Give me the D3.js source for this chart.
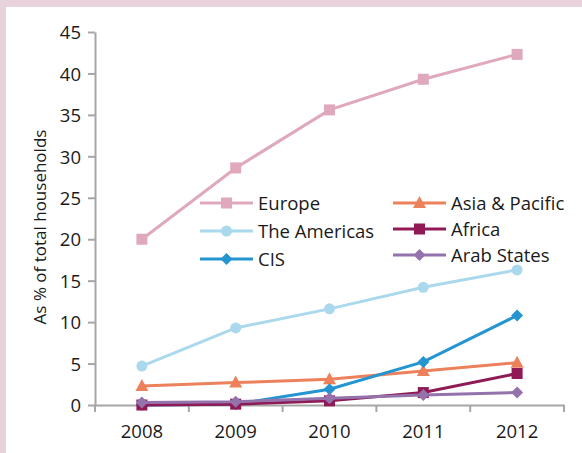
<!DOCTYPE html>
<html><head><meta charset="utf-8">
<script src="https://cdn.jsdelivr.net/npm/d3@7"></script>
<style>body{margin:0;background:#fff;}svg{display:block;}text{font-family:"Open Sans",sans-serif;fill:#1a1a1a;}</style>
</head><body>
<svg id="c" width="582" height="453"></svg>
<script>
const years = ["2008","2009","2010","2011","2012"];
const yTicks = [0,5,10,15,20,25,30,35,40,45];
const europe = [20.0, 28.6, 35.6, 39.3, 42.3];
const americas = [4.7, 9.3, 11.6, 14.2, 16.3];
const cis = [0.0, 0.1, 1.9, 5.2, 10.8];
const asiaPacific = [2.3, 2.7, 3.1, 4.1, 5.1];
const africa = [0.0, 0.1, 0.5, 1.5, 3.8];
const arabStates = [0.3, 0.4, 0.8, 1.2, 1.5];

const series = [
  {name:"Europe", values:europe, color:"#dfa8bd", shape:"square", col:0, row:0},
  {name:"The Americas", values:americas, color:"#aad8ec", shape:"circle", col:0, row:1},
  {name:"CIS", values:cis, color:"#2495d0", shape:"diamond", col:0, row:2},
  {name:"Asia & Pacific", values:asiaPacific, color:"#ec815c", shape:"triangle", col:1, row:0},
  {name:"Africa", values:africa, color:"#8f1a56", shape:"square", col:1, row:1},
  {name:"Arab States", values:arabStates, color:"#9472ab", shape:"diamond", col:1, row:2}
];

const svg = d3.select("#c");
svg.append("rect").attr("x",0).attr("y",0).attr("width",582).attr("height",7).attr("fill","#e8d3dc");
svg.append("rect").attr("x",0).attr("y",0).attr("width",6).attr("height",453).attr("fill","#e8d3dc");

const x = d3.scaleBand().domain(years).range([95,564]);
const y = d3.scaleLinear().domain([0,45]).range([405,32]);

const axisColor = "#a6a6a6";
const yAxis = svg.append("g").attr("transform","translate(95,0)")
  .call(d3.axisLeft(y).tickValues(yTicks).tickSize(7).tickPadding(7).tickSizeOuter(0));
const xAxis = svg.append("g").attr("transform","translate(0,405)")
  .call(d3.axisBottom(x).tickSize(0).tickPadding(20));
xAxis.selectAll(".bt").data(years.concat(["end"])).enter().append("line")
  .attr("x1",(d,i)=> i<years.length ? x(d) : x.range()[1])
  .attr("x2",(d,i)=> i<years.length ? x(d) : x.range()[1])
  .attr("y1",0).attr("y2",7).attr("stroke",axisColor).attr("stroke-width",2);
[yAxis,xAxis].forEach(g=>{
  g.select(".domain").attr("stroke",axisColor).attr("stroke-width",2);
  g.selectAll(".tick line").attr("stroke",axisColor).attr("stroke-width",2);
  g.selectAll("text").style("font-size","18.5px").style("font-family","Open Sans").attr("fill","#1a1a1a");
});
yAxis.selectAll("text").attr("dy","0.36em");

svg.append("text").attr("transform","translate(46,227) rotate(-90)")
  .attr("text-anchor","middle").style("font-size","17px").text("As % of total households");

function marker(g, shape, cx, cy, color){
  if(shape==="square"){
    g.append("rect").attr("x",cx-5.5).attr("y",cy-5.5).attr("width",11).attr("height",11).attr("fill",color);
  } else if(shape==="circle"){
    g.append("circle").attr("cx",cx).attr("cy",cy).attr("r",5.5).attr("fill",color);
  } else if(shape==="diamond"){
    g.append("path").attr("d",`M${cx},${cy-6}L${cx+6},${cy}L${cx},${cy+6}L${cx-6},${cy}Z`).attr("fill",color);
  } else if(shape==="triangle"){
    g.append("path").attr("d",`M${cx},${cy-7}L${cx+6.5},${cy+5}L${cx-6.5},${cy+5}Z`).attr("fill",color);
  }
}

const line = d3.line().x((d,i)=>x(years[i])+x.bandwidth()/2).y(d=>y(d));
const drawOrder = [0,1,3,2,4,5];
drawOrder.forEach(k=>{
  const s = series[k];
  const g = svg.append("g");
  g.append("path").attr("d",line(s.values)).attr("fill","none").attr("stroke",s.color).attr("stroke-width",3);
  s.values.forEach((v,i)=>marker(g,s.shape,x(years[i])+x.bandwidth()/2,y(v),s.color));
});

const legX = [200,393], legY0 = [203,203], legDy = [28,26];
series.forEach(s=>{
  const lx = legX[s.col], ly = legY0[s.col] + s.row*legDy[s.col];
  const g = svg.append("g");
  g.append("line").attr("x1",lx).attr("x2",lx+53).attr("y1",ly).attr("y2",ly).attr("stroke",s.color).attr("stroke-width",3);
  marker(g,s.shape,lx+26.5,ly,s.color);
  g.append("text").attr("x",lx+58).attr("y",ly).attr("dy","0.36em").style("font-size","18.5px").text(s.name);
});
</script>
</body></html>
